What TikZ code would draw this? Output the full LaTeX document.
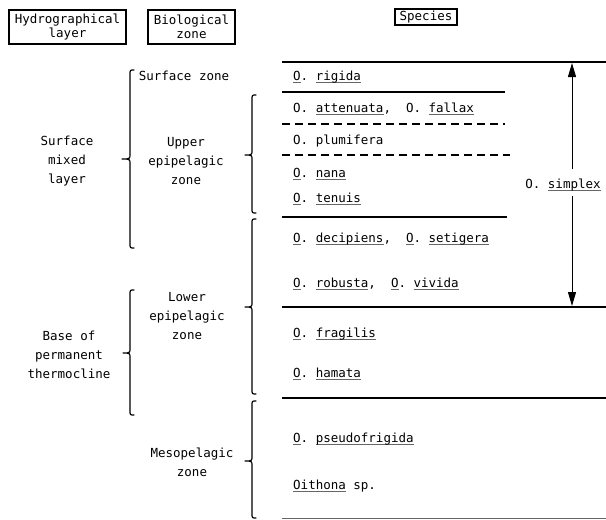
\documentclass[tikz,border=0pt]{standalone}
\usepackage{fontspec}
\setmainfont{DejaVu Sans Mono}
\usetikzlibrary{arrows.meta,calc}
\frenchspacing
\newcommand\ulx[1]{\setbox0\hbox{#1}\rlap{\color{black!60}\rule[-2pt]{\wd0}{0.6pt}}\box0\relax}
\newcommand\zbrace[5]{%
  \draw[bracestyle] (#1+4,#3) .. controls (#1,#3) .. (#1,#3+5) -- (#1,#4-5)
    .. controls (#1,#4) .. (#2,#4) .. controls (#1,#4) .. (#1,#4+5)
    -- (#1,#5-5) .. controls (#1,#5) .. (#1+4,#5);}
\begin{document}
\begin{tikzpicture}[x=1pt,y=-1pt,
  txt/.style={font=\fontsize{12.5}{19}\selectfont, inner sep=0pt, align=center},
  sp/.style={font=\fontsize{12.5}{15}\selectfont, inner sep=0pt, anchor=base west},
  hbox/.style={draw, line width=1.1pt, inner sep=0pt, align=center, font=\fontsize{12.5}{14}\selectfont},
  rulel/.style={line width=1.3pt},
  dashrule/.style={line width=1.3pt, dash pattern=on 8pt off 5pt},
  bracestyle/.style={line width=1.2pt, line cap=round, line join=round},
  arr/.style={line width=1pt, -{Triangle[length=14pt,width=8pt]}}]
\useasboundingbox (0,0) rectangle (606,520);

% header boxes
\node[hbox, minimum width=117pt, minimum height=34pt] (hyd) at (67.5,27) {Hydrographical\\layer};
\node[hbox, minimum width=87pt, minimum height=34pt] (bio) at (191.5,27) {Biological\\zone};
\node[hbox, minimum width=62pt, minimum height=16pt] (spc) at (426,17) {Species};

% left labels
\node[txt] (sml) at (67,161) {Surface\\mixed\\layer};
\node[txt] (bpt) at (69,355) {Base of\\permanent\\thermocline};
\node[txt] (sz) at (184,76) {Surface zone};
\node[txt] (uez) at (186,161) {Upper\\epipelagic\\zone};
\node[txt] (lez) at (187,316) {Lower\\epipelagic\\zone};
\node[txt] (mz) at (192,462) {Mesopelagic\\zone};

% braces
\zbrace{130}{122}{70}{159}{248}
\zbrace{130}{123}{290}{353}{415}
\zbrace{252}{245}{95}{155}{213}
\zbrace{252}{245}{219}{307}{394}
\zbrace{252}{245}{401}{461}{518}

% horizontal rules
\draw[rulel] (282,62) -- (606,62);
\draw[rulel] (282,92) -- (505,92);
\draw[dashrule] (282,124) -- (505,124);
\draw[dashrule] (282,155) -- (510,155);
\draw[rulel] (282,217) -- (507,217);
\draw[rulel] (282,307) -- (606,307);
\draw[rulel] (282,398) -- (606,398);
\draw[line width=0.8pt, black!60] (282,518) -- (606,518);

% species
\node[sp] (rig) at (293,80.5) {\ulx{O}. \ulx{rigida}};
\node[sp] (att) at (293,112.5) {O. \ulx{attenuata},\ \ O. \ulx{fallax}};
\node[sp] (plu) at (293,144.5) {O. plumifera};
\node[sp] (nan) at (293,177.5) {\ulx{O}. \ulx{nana}};
\node[sp] (ten) at (293,202.5) {\ulx{O}. \ulx{tenuis}};
\node[sp] (dec) at (293,242.5) {\ulx{O}. \ulx{decipiens},\ \ \ulx{O}. \ulx{setigera}};
\node[sp] (rob) at (293,287.5) {\ulx{O}. \ulx{robusta},\ \ \ulx{O}. \ulx{vivida}};
\node[sp] (fra) at (293,337.5) {\ulx{O}. \ulx{fragilis}};
\node[sp] (ham) at (293,377.5) {\ulx{O}. \ulx{hamata}};
\node[sp] (pse) at (293,442.5) {\ulx{O}. \ulx{pseudofrigida}};
\node[sp] (oit) at (293,489.5) {\ulx{Oithona} sp.};

% O. simplex range arrow
\node[font=\fontsize{12.5}{15}\selectfont, inner sep=0pt] (simp) at (563,185) {O. \ulx{simplex}};
\coordinate (atop) at (572,63);
\coordinate (abot) at (572,306);
\draw[arr] ($(atop |- simp.north)+(0,-10)$) -- (atop);
\draw[arr] ($(abot |- simp.south)+(0,5)$) -- (abot);
\end{tikzpicture}
\end{document}
